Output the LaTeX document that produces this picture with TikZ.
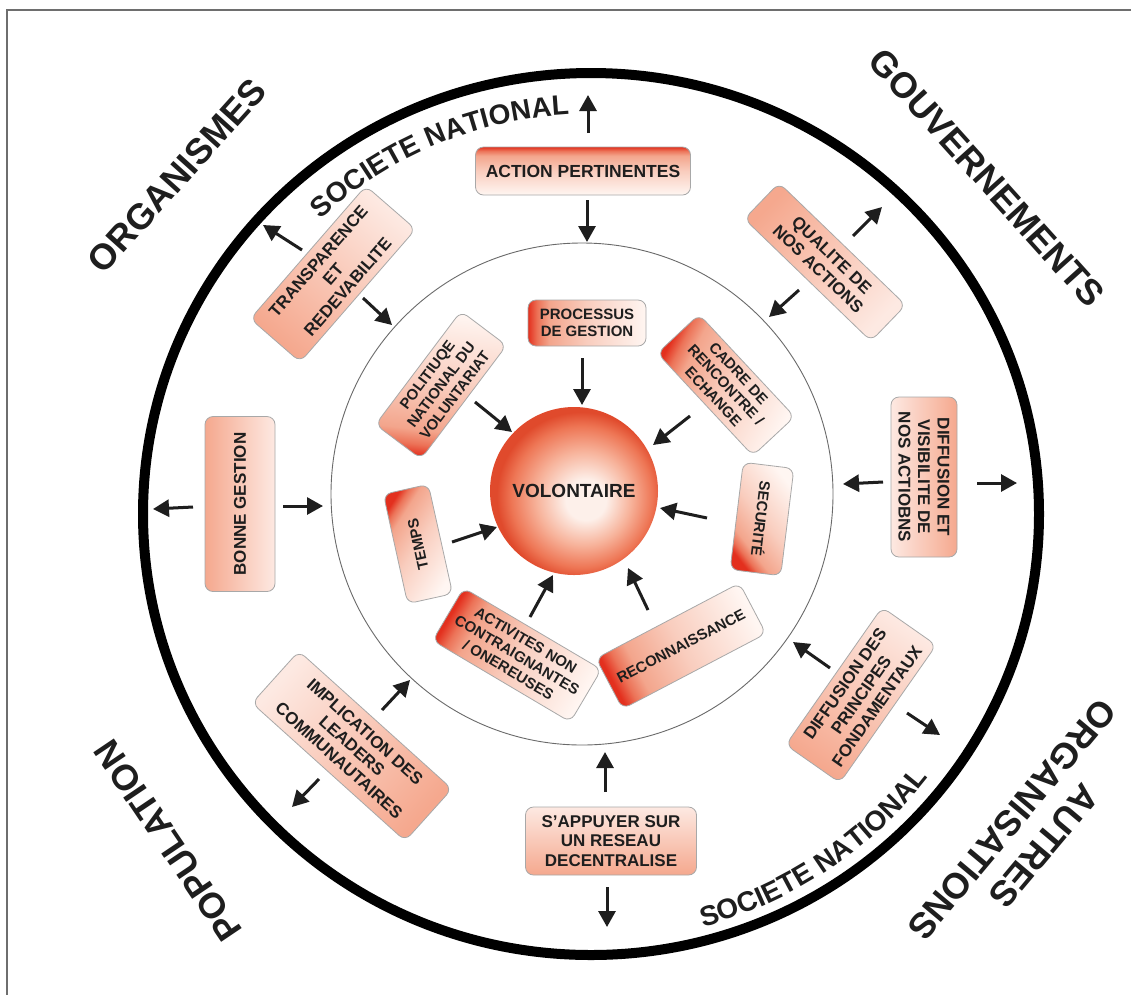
\documentclass[tikz,border=0pt]{standalone}
\usepackage{fontspec}
\setmainfont{Liberation Sans}
\usetikzlibrary{arrows.meta,shapes.geometric,calc}

\definecolor{salmon}{HTML}{F5A88E}
\definecolor{lightpk}{HTML}{FDE9E2}
\definecolor{whpk}{HTML}{FFF6F2}
\definecolor{lsal}{HTML}{F9CDBE}
\definecolor{msal}{HTML}{F3A58C}
\definecolor{dsal}{HTML}{EC7358}
\definecolor{redx}{HTML}{E3301E}
\definecolor{edgec}{HTML}{A8A8A8}
\definecolor{txt}{HTML}{1E1E1E}
\definecolor{sph1}{HTML}{FDF0EA}
\definecolor{sph2}{HTML}{F7B39B}
\definecolor{sph3}{HTML}{EE7655}
\definecolor{sph4}{HTML}{E04A2C}
\definecolor{framec}{HTML}{6E6E6E}
\definecolor{thinc}{HTML}{6A6A6A}

\pgfdeclareverticalshading{redsh}{100bp}{color(0bp)=(whpk); color(25bp)=(whpk); color(50bp)=(lsal); color(66bp)=(msal); color(71bp)=(dsal); color(75bp)=(redx); color(100bp)=(redx)}
\pgfdeclareverticalshading{pinksh}{100bp}{color(0bp)=(lightpk); color(25bp)=(lightpk); color(75bp)=(salmon); color(100bp)=(salmon)}
\pgfdeclareradialshading{sphsh}{\pgfpoint{4bp}{-3bp}}{color(0bp)=(sph1); color(6bp)=(sph1); color(14bp)=(sph2); color(21bp)=(sph3); color(25bp)=(sph4); color(50bp)=(sph4)}

\tikzset{
  bx/.style={shade, draw=edgec, line width=0.8pt, rounded corners=8pt, align=center, text=txt, inner sep=1pt},
  ofont/.style={font=\fontsize{17}{19.5}\selectfont\bfseries},
  ifont/.style={font=\fontsize{15}{17.2}\selectfont\bfseries},
  bigl/.style={font=\fontsize{36}{42}\selectfont\bfseries, text=txt, align=center},
  arcl/.style={font=\fontsize{28}{28}\selectfont\bfseries, text=txt, anchor=base, inner sep=0pt, outer sep=0pt},
  arr/.style={line width=3pt, draw=txt, -{Triangle[length=16pt,width=17pt]}},
}

\begin{document}
\begin{tikzpicture}[x=1pt,y=1pt]
\useasboundingbox (0,0) rectangle (1131,-994);
\fill[white] (0,0) rectangle (1131,-994);
% frame
\draw[framec, line width=1.2pt] (1140,-10) -- (7,-10) -- (7,-1004);

% circles
\node[ellipse, draw=black, line width=10pt, minimum width=896pt, minimum height=882pt, inner sep=0pt] (outer) at (591,-514) {};
\node[circle, draw=thinc, line width=0.9pt, minimum size=502pt, inner sep=0pt] (inner) at (582,-494) {};

% sphere
\node[circle, shade, shading=sphsh, minimum size=168pt, inner sep=0pt, text=txt, font=\fontsize{19}{22}\selectfont\bfseries] (vol) at (574,-491) {VOLONTAIRE};

% outer ring boxes
\node[bx, font=\fontsize{17.5}{20}\selectfont\bfseries, shading=redsh, shading angle=0, minimum width=215pt, minimum height=48pt] (act) at (583,-171) {ACTION PERTINENTES};
\node[bx, ofont, shading=pinksh, rotate=-44, shading angle=46, minimum width=176pt, minimum height=50pt] (qual) at (825,-262) {QUALITE DE\\NOS ACTIONS};
\node[bx, ofont, shading=pinksh, rotate=-90, shading angle=-90, minimum width=160pt, minimum height=66pt] (difv) at (924,-477) {DIFFUSION ET\\VISIBILITE DE\\NOS ACTIOBNS};
\node[bx, ofont, shading=pinksh, rotate=55, shading angle=145, minimum width=168pt, minimum height=66pt] (difp) at (861,-695) {DIFFUSION DES\\PRINCIPES\\FONDAMENTAUX};
\node[bx, ofont, shading=pinksh, shading angle=180, minimum width=171pt, minimum height=68pt] (app) at (611,-841) {S’APPUYER SUR\\UN RESEAU\\DECENTRALISE};
\node[bx, ofont, shading=pinksh, rotate=-42, shading angle=-132, minimum width=206pt, minimum height=70pt] (impl) at (352,-746) {IMPLICATION DES\\LEADERS\\COMMUNAUTAIRES};
\node[bx, ofont, shading=pinksh, rotate=90, shading angle=90, minimum width=175pt, minimum height=70pt] (bon) at (240,-504) {BONNE GESTION};
\node[bx, ofont, shading=pinksh, rotate=49, shading angle=139, minimum width=176pt, minimum height=66pt] (tra) at (333,-274) {TRANSPARENCE\\ET\\REDEVABILITE};

% inner ring boxes
\node[bx, ifont, shading=redsh, shading angle=90, minimum width=118pt, minimum height=46pt] (proc) at (587,-323) {PROCESSUS\\DE GESTION};
\node[bx, ifont, shading=redsh, rotate=53, shading angle=173, minimum width=142pt, minimum height=57pt] (pol) at (441,-385) {POLITIUQE\\NATIONAL DU\\VOLUNTARIAT};
\node[bx, ifont, shading=redsh, rotate=-47, shading angle=63, minimum width=140pt, minimum height=57pt] (cad) at (726,-385) {CADRE DE\\RENCONTRE /\\ECHANGE};
\node[bx, ifont, shading=redsh, rotate=-97, shading angle=128, minimum width=108pt, minimum height=51pt] (sec) at (762,-519) {SECURITÉ};
\node[bx, ifont, shading=redsh, rotate=27.7, shading angle=117.7, minimum width=162pt, minimum height=57pt] (rec) at (681,-646) {RECONNAISSANCE};
\node[bx, ifont, shading=redsh, rotate=-30.6, shading angle=59.4, minimum width=160pt, minimum height=61pt] (actv) at (517,-655) {ACTIVITES NON\\CONTRAIGNANTES\\/ ONEREUSES};
\node[bx, ifont, shading=redsh, rotate=102.5, shading angle=57.5, minimum width=112pt, minimum height=46pt] (tmp) at (418,-544) {TEMPS};

% arrows
\foreach \n/\a/\b/\c/\d in {
  actU/588/133/588/95, actD/587/200/587/242,
  qualO/853/236/882/207, qualI/799/290/769/317,
  difvL/883/482/843/484, difvR/977/483/1017/483,
  difpI/830/668/793/642, difpO/907/713/940/735,
  appU/605/792/605/752, appD/607/887/607/927,
  implI/382/710/410/680, implO/319/779/292/807,
  bonL/193/507/153/509, bonR/283/506/323/506,
  traO/302/250/263/225, traI/363/298/392/325,
  procA/582/358/582/405, cadA/690/416/653/445,
  secA/707/518/660/508, recA/648/610/628/568,
  actvA/530/617/553/575, tmpA/452/542/497/527,
  polA/475/402/512/432}
{
  \coordinate (\n-t) at (\a,-\b);
  \coordinate (\n-h) at (\c,-\d);
  \draw[arr] (\n-t) -- (\n-h);
}

% curved texts: SOCIETE NATIONAL, letter by letter along arcs
\coordinate (ctr) at (591,-514);
\foreach \ch/\m [count=\i] in {S/9.34, O/29.57, C/50.57, I/64.57, E/77.80, T/95.70, E/113.59,
  N/140.82, A/161.04, T/179.71, I/192.15, O/206.93, N/227.93, A/248.15, L/266.82}
{
  \pgfmathsetmacro\angA{132.52 - \m*0.14324}
  \pgfmathsetmacro\rotA{\angA - 90}
  \node[arcl, rotate=\rotA] (st\i) at ($(ctr)+(\angA:400)$) {\ch};
}
\foreach \ch/\m [count=\i] in {S/9.34, O/29.57, C/50.57, I/64.57, E/77.80, T/95.70, E/113.59,
  N/140.82, A/161.04, T/179.71, I/192.15, O/206.93, N/227.93, A/248.15, L/266.82}
{
  \pgfmathsetmacro\angB{-74.83 + \m*0.13387}
  \pgfmathsetmacro\rotB{\angB + 90}
  \node[arcl, rotate=\rotB] (sb\i) at ($(ctr)+(\angB:428)$) {\ch};
}

% outer labels
\node[bigl, rotate=48] (org) at (177,-176) {ORGANISMES};
\node[bigl, rotate=-48] (gouv) at (987,-178) {GOUVERNEMENTS};
\node[bigl, rotate=124] (pop) at (168,-841) {POPULATION};
\node[bigl, rotate=-130] (autres) at (1028,-833) {AUTRES\\ORGANISATIONS};
\end{tikzpicture}
\end{document}
